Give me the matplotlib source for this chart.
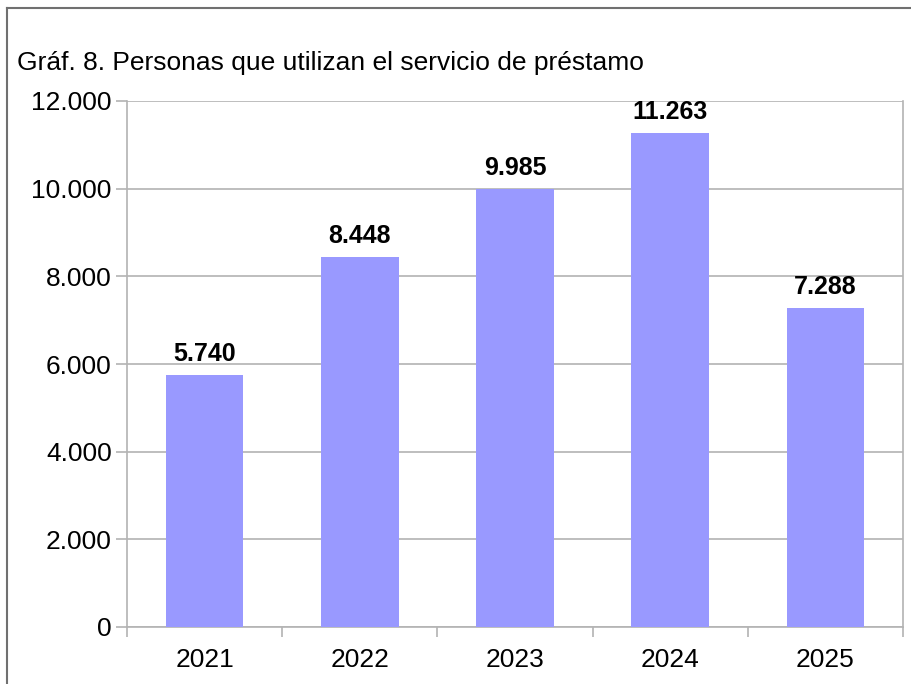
import matplotlib
matplotlib.use("Agg")
import matplotlib.pyplot as plt
from matplotlib.ticker import FuncFormatter, FixedLocator
from matplotlib.lines import Line2D

plt.rcParams['font.family'] = ['Liberation Sans', 'DejaVu Sans']

title = "Gráf. 8. Personas que utilizan el servicio de préstamo"
years = ["2021", "2022", "2023", "2024", "2025"]
values = [5740, 8448, 9985, 11263, 7288]
y_ticks = [0, 2000, 4000, 6000, 8000, 10000, 12000]

def fmt_thousands(v):
    return f"{int(round(v)):,}".replace(",", ".")

fig = plt.figure(figsize=(9.12, 6.84), dpi=100)
ax = fig.add_axes([127/912, 1 - 627/684, (903 - 127)/912, (627 - 101)/684])

x = list(range(len(years)))
bars = ax.bar(x, values, width=0.5, color="#9999ff", zorder=3)

ax.set_xlim(-0.5, len(years) - 0.5)
ax.set_ylim(0, 12000)
ax.set_yticks(y_ticks)
ax.yaxis.set_major_formatter(FuncFormatter(lambda v, p: fmt_thousands(v)))
ax.set_xticks(x)
ax.set_xticklabels(years)
ax.xaxis.set_minor_locator(FixedLocator([i - 0.5 for i in range(len(years) + 1)]))

grid_c = "#b3b3b3"
ax.yaxis.grid(True, color=grid_c, linewidth=1.2, zorder=0)
ax.set_axisbelow(True)
for s in ["left", "right", "bottom"]:
    ax.spines[s].set_color(grid_c)
    ax.spines[s].set_linewidth(1.2)
ax.spines["top"].set_visible(False)

ax.tick_params(axis="y", which="major", length=8, width=1.2, color=grid_c, pad=3,
               labelsize=19, labelcolor="black")
ax.tick_params(axis="x", which="major", length=0, pad=15, labelsize=19, labelcolor="black")
ax.tick_params(axis="x", which="minor", length=7, width=1.2, color=grid_c)

for xi, v in zip(x, values):
    ax.annotate(fmt_thousands(v), (xi, v), xytext=(0, 6.5), textcoords="offset points",
                ha="center", va="bottom", fontsize=18, fontweight="bold", color="black")

fig.text(17/912, 1 - 63/684, title, ha="left", va="center", fontsize=19, color="black")

border_c = "#707070"
fig.add_artist(Line2D([7.5/912, 7.5/912], [0, 1 - 8/684], transform=fig.transFigure,
                      color=border_c, linewidth=1.5))
fig.add_artist(Line2D([7.5/912, 1], [1 - 8/684, 1 - 8/684], transform=fig.transFigure,
                      color=border_c, linewidth=1.5))

fig.savefig("out.png", dpi=100)
